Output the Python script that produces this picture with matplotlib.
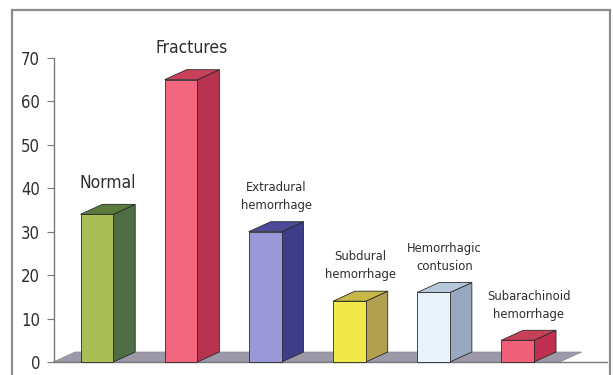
'''
Distribution of CT findings in head injury cases, drawn as pseudo-3D bars.
'''

import matplotlib
matplotlib.use('Agg')
import matplotlib.pyplot as plt
from matplotlib.patches import Polygon, Rectangle


CATEGORIES = [
    'Normal',
    'Fractures',
    'Extradural\nhemorrhage',
    'Subdural\nhemorrhage',
    'Hemorrhagic\ncontusion',
    'Subarachinoid\nhemorrhage',
]
VALUES = [34, 65, 30, 14, 16, 5]
Y_TICKS = [0, 10, 20, 30, 40, 50, 60, 70]

FRONT_COLORS = ['#a9bf55', '#f2667f', '#9a98d6', '#f2e84a', '#e8f2fa', '#f06078']
SIDE_COLORS = ['#4f6e45', '#b8334f', '#3d3d8a', '#b0a050', '#98a8c0', '#c03050']
TOP_COLORS = ['#5d7a3e', '#c8405a', '#4c4a96', '#c8b848', '#b8c8dc', '#c84058']
BIG_LABELS = {'Normal', 'Fractures'}

BAR_WIDTH = 0.39
DEPTH_X = 0.26
DEPTH_Y = 2.3
TEXT_COLOR = '#2e2e2e'
FONT = ['DejaVu Sans']


def draw_bar(ax, x, value, front, side, top) -> None:
    '''
    Draw one box-shaped bar: front face, right side and lid.
    '''
    left = x - BAR_WIDTH / 2
    right = x + BAR_WIDTH / 2
    edge = dict(edgecolor='#2a2a2a', linewidth=0.6, clip_on=False)
    ax.add_patch(Polygon(
        [(right, 0), (right + DEPTH_X, DEPTH_Y),
         (right + DEPTH_X, value + DEPTH_Y), (right, value)],
        facecolor=side, zorder=3, **edge))
    ax.add_patch(Polygon(
        [(left, value), (right, value),
         (right + DEPTH_X, value + DEPTH_Y), (left + DEPTH_X, value + DEPTH_Y)],
        facecolor=top, zorder=3, **edge))
    ax.add_patch(Rectangle(
        (left, 0), BAR_WIDTH, value, facecolor=front, zorder=4, **edge))


def main() -> None:
    '''
    Build the chart and save it.
    '''
    fig = plt.figure(figsize=(6.13, 3.75), dpi=100)
    ax = fig.add_axes([0.0881, 0.0347, 0.902, 0.8107])

    # outer chart border, open at the bottom
    fig.add_artist(Rectangle(
        (12 / 613, -0.05), 598 / 613, 1.05 - 10 / 375,
        transform=fig.transFigure, fill=False,
        edgecolor='#8c8c8c', linewidth=1.6))

    n = len(VALUES)
    ax.set_xlim(-0.51, 6.06)
    ax.set_ylim(0, 70)

    # floor under the bars
    floor_left = -0.52
    floor_right = n - 0.5
    ax.add_patch(Polygon(
        [(floor_left, 0), (floor_right, 0),
         (floor_right + DEPTH_X, DEPTH_Y), (floor_left + DEPTH_X, DEPTH_Y)],
        facecolor='#9c9aa8', edgecolor='#8a8896', linewidth=0.5,
        zorder=2, clip_on=False))

    for idx, (label, value) in enumerate(zip(CATEGORIES, VALUES)):
        draw_bar(ax, idx, value, FRONT_COLORS[idx], SIDE_COLORS[idx],
                 TOP_COLORS[idx])
        big = label in BIG_LABELS
        ax.annotate(
            label,
            xy=(idx + DEPTH_X / 2, value + DEPTH_Y),
            xytext=(0, 9 if big else 7),
            textcoords='offset points',
            ha='center', va='bottom',
            fontsize=12.5 if big else 9.3,
            fontstretch='condensed',
            linespacing=1.5,
            color=TEXT_COLOR,
            family=FONT,
            annotation_clip=False,
        )

    ax.set_yticks(Y_TICKS)
    ax.set_yticklabels([str(t) for t in Y_TICKS], family=FONT,
                       fontsize=12, color=TEXT_COLOR,
                       fontstretch='condensed')
    ax.set_xticks([])
    ax.tick_params(axis='y', direction='out', length=5, width=0.8,
                   color='#7a7a7a', pad=5)
    for side in ['top', 'right']:
        ax.spines[side].set_visible(False)
    for side in ['left', 'bottom']:
        ax.spines[side].set_color('#7a7a7a')
        ax.spines[side].set_linewidth(1.0)
    ax.patch.set_alpha(0)

    fig.savefig('out.png', dpi=100)


if __name__ == "__main__":
    main()
